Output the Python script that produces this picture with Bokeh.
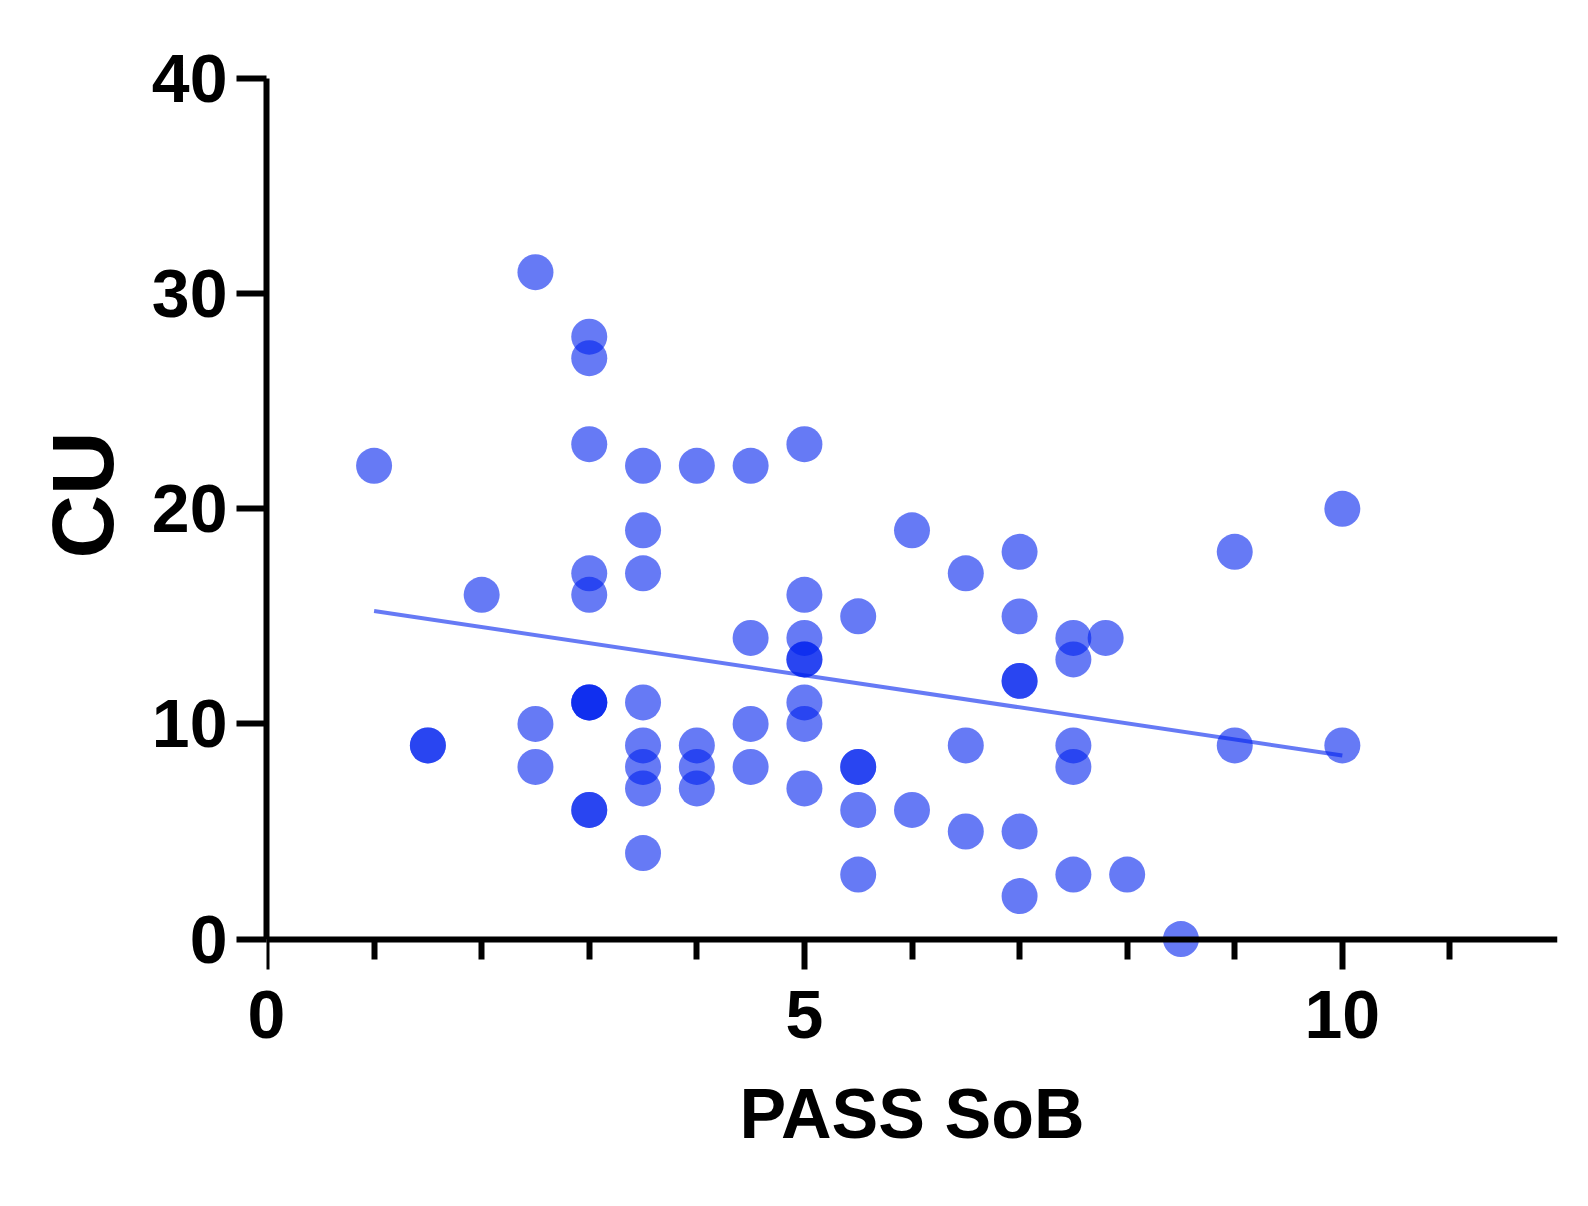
from bokeh.plotting import figure
from bokeh.models import Range1d, FixedTicker, LinearAxis, Title
from bokeh.embed import file_html
from bokeh.resources import INLINE

# Data (PASS SoB vs CU)
pass_sob = [1, 1.5, 1.5, 2, 2.5, 2.5, 2.5,
            3, 3, 3, 3, 3, 3, 3, 3, 3, 3,
            3.5, 3.5, 3.5, 3.5, 3.5, 3.5, 3.5, 3.5,
            4, 4, 4, 4,
            4.5, 4.5, 4.5, 4.5,
            5, 5, 5, 5, 5, 5, 5, 5,
            5.5, 5.5, 5.5, 5.5, 5.5,
            6, 6,
            6.5, 6.5, 6.5,
            7, 7, 7, 7, 7, 7,
            7.5, 7.5, 7.5, 7.5, 7.5,
            7.8, 8, 8.5,
            9, 9, 10, 10]
cu = [22, 9, 9, 16, 31, 10, 8,
      28, 27, 23, 17, 16, 11, 11, 11, 6, 6,
      22, 19, 17, 11, 9, 8, 7, 4,
      22, 9, 8, 7,
      22, 14, 10, 8,
      23, 16, 14, 13, 13, 11, 10, 7,
      15, 8, 8, 6, 3,
      19, 6,
      17, 9, 5,
      18, 15, 12, 12, 5, 2,
      14, 13, 9, 8, 3,
      14, 3, 0,
      18, 9, 20, 9]

trend_x = [1, 10]
trend_y = [15.25, 8.53]

x_ticks = [0, 5, 10]
x_minor = [1, 2, 3, 4, 6, 7, 8, 9, 11]
y_ticks = [0, 10, 20, 30, 40]

FONT = "Liberation Sans"
BLUE = "#0022EE"

p = figure(width=1580, height=1200, output_backend="svg", toolbar_location=None,
           x_range=Range1d(0, 12), y_range=Range1d(-1.6, 40),
           x_axis_location=None, y_axis_location=None,
           min_border_left=266, min_border_right=23, min_border_top=78,
           min_border_bottom=227)
p.outline_line_color = None
p.xgrid.visible = False
p.ygrid.visible = False
p.background_fill_color = "white"

p.scatter(pass_sob, cu, size=36, fill_color=BLUE, fill_alpha=0.6, line_color=None)
p.line(trend_x, trend_y, line_color=BLUE, line_alpha=0.6, line_width=4)


def style_text(ax):
    ax.major_label_text_font = FONT
    ax.major_label_text_font_style = "bold"
    ax.major_label_text_font_size = "68px"
    ax.major_label_text_color = "black"
    ax.axis_label_text_font = FONT
    ax.axis_label_text_font_style = "bold"
    ax.axis_label_text_color = "black"


# Left axis: line, ticks and labels
ya = LinearAxis(ticker=FixedTicker(ticks=y_ticks), bounds=(0, 40))
style_text(ya)
ya.axis_line_width = 6
ya.major_tick_line_width = 6
ya.major_tick_in = 0
ya.major_tick_out = 30
ya.minor_tick_line_color = None
ya.major_label_standoff = 9
p.add_layout(ya, "left")

# y-axis title
p.add_layout(Title(text="CU", align="left", offset=415, standoff=33,
                   text_font=FONT, text_font_style="bold",
                   text_font_size="88px", text_color="black"), "left")

# Bottom axis: tick labels and title only
xl = LinearAxis(ticker=FixedTicker(ticks=x_ticks), bounds=(0, 12))
style_text(xl)
xl.axis_line_color = None
xl.major_tick_line_color = None
xl.minor_tick_line_color = None
xl.major_tick_in = 0
xl.major_tick_out = 0
xl.minor_tick_out = 0
xl.major_label_standoff = 17
xl.axis_label = "PASS SoB"
xl.axis_label_text_font_size = "70px"
xl.axis_label_standoff = 34
p.add_layout(xl, "below")

# x-axis rule at CU = 0 with ticks pointing down
xr = LinearAxis(ticker=FixedTicker(ticks=x_ticks, minor_ticks=x_minor),
                bounds=(0, 12), fixed_location=0)
xr.axis_line_width = 6
xr.major_tick_line_width = 6
xr.minor_tick_line_width = 6
xr.major_tick_out = 0
xr.minor_tick_out = 0
xr.major_tick_in = 30
xr.minor_tick_in = 20
xr.major_label_text_font_size = "0px"
xr.major_label_text_alpha = 0
xr.major_label_standoff = 0
p.add_layout(xr, "above")

open("out.html", "w").write(file_html(p, INLINE))
